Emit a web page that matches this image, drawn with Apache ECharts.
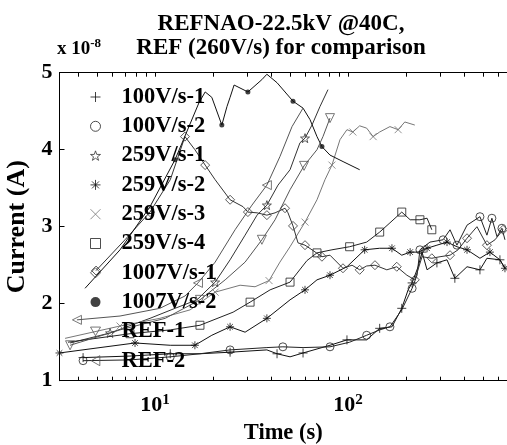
<!DOCTYPE html>
<html lang="en">
<head>
<meta charset="UTF-8">
<title>REFNAO-22.5kV @40C</title>
<script src="https://cdn.jsdelivr.net/npm/echarts@6/dist/echarts.min.js"></script>
<style>
    html, body { margin: 0; padding: 0; background: #fff; }
    #chart { width: 507px; height: 445px; }
</style>
</head>
<body>
<div id="chart"></div>
<script>
// time (s), current (x 1e-8 A)
const v100_1 = [[4.24,1.30],[7.42,1.32],[12.0,1.35],[17.1,1.35],[24.5,1.37],[38.0,1.40],[42.9,1.35],[50.1,1.31],[58.5,1.36],[80.7,1.46],[98.8,1.53],[125,1.53],[146,1.68],[169,1.70],[190,1.94],[205,2.18],[215,2.27],[231,2.48],[242,2.67],[257,2.44],[289,2.53],[326,2.57],[358,2.33],[414,2.48],[483,2.44],[525,2.59],[613,2.57],[651,2.46]];
const v100_2 = [[4.24,1.26],[7.42,1.27],[12.0,1.31],[17.1,1.35],[24.5,1.40],[38.0,1.43],[46.0,1.44],[58.5,1.43],[80.7,1.44],[102,1.50],[125,1.59],[146,1.66],[165,1.70],[190,1.92],[215,2.20],[228,2.37],[236,2.70],[266,2.80],[311,2.83],[338,2.96],[367,2.76],[414,3.02],[483,3.13],[525,2.89],[557,3.11],[592,2.87],[628,2.98],[651,2.83]];
const v259_1 = [[3.63,1.49],[5.85,1.62],[9.42,1.81],[12.7,1.94],[16.5,2.05],[20.5,2.28],[24.5,2.57],[29.3,2.89],[33.8,3.15],[38.0,3.28],[43.4,3.54],[50.1,3.74],[56.4,4.09],[59.9,4.15],[65.1,4.32],[71.6,4.56],[78.8,4.78]];
const v259_2 = [[3.2,1.36],[5.19,1.43],[7.88,1.49],[12.0,1.46],[16.1,1.46],[19.7,1.59],[24.5,1.70],[29.3,1.63],[38.0,1.81],[50.1,2.05],[59.9,2.18],[69.1,2.31],[80.7,2.37],[98.8,2.48],[122,2.70],[146,2.72],[169,2.72],[190,2.63],[210,2.67],[231,2.67],[257,2.72],[289,2.76],[326,2.80],[367,2.74],[414,2.70],[483,2.59],[544,2.67],[613,2.57],[651,2.46]];
const v259_3 = [[3.42,1.55],[6.59,1.71],[10.6,1.81],[15.2,1.92],[20.5,2.15],[27.6,2.24],[33.0,2.22],[39.0,2.30],[44.4,2.54],[50.1,2.74],[59.9,3.06],[69.1,3.35],[76.0,3.61],[82.6,3.80],[90.9,4.13],[98.8,4.26],[106,4.23],[115,4.31],[125,4.28],[135,4.17],[146,4.23],[165,4.30],[182,4.26],[197,4.36],[222,4.32]];
const v259_4 = [[3.54,1.50],[7.42,1.61],[12.0,1.66],[17.1,1.72],[25.4,1.89],[31.1,2.02],[39.5,2.18],[50.1,2.28],[61.3,2.56],[69.1,2.66],[82.6,2.70],[102,2.74],[125,2.80],[146,2.93],[165,3.05],[190,3.19],[210,3.09],[236,3.09],[257,3.11],[272,2.96]];
const v1007_1 = [[4.95,2.43],[6.99,2.83],[9.42,3.19],[12.0,3.61],[14.3,4.17],[16.1,4.00],[18.2,3.80],[20.5,3.61],[24.5,3.35],[28.6,3.26],[30.3,3.19],[33.8,3.18],[38.0,3.15],[41.9,3.18],[47.2,3.24],[48.9,3.18],[51.9,3.01],[55.1,2.79],[59.9,2.76],[65.1,2.70],[73.3,2.61],[80.7,2.63],[94.2,2.46],[105,2.50],[115,2.44],[125,2.49],[138,2.50],[159,2.44],[179,2.48],[202,2.37],[222,2.31],[242,2.61],[272,2.59],[300,2.61],[338,2.63],[372,2.70],[414,2.85],[466,3.00],[525,2.76],[578,2.83],[636,2.96]];
const v1007_2 = [[4.34,2.20],[6.59,2.70],[9.42,3.26],[12.7,3.87],[16.9,4.61],[18.2,4.75],[19.7,4.68],[22.2,4.32],[23.6,4.56],[24.5,4.68],[25.7,4.84],[30.3,4.75],[35.8,4.91],[38.0,4.98],[42.9,4.87],[51.9,4.63],[58.5,4.54],[63.6,4.39],[69.1,4.17],[73.3,4.04],[80.7,3.93],[95.3,3.84],[115,3.74]];
const vRef1 = [[3.63,1.46],[6.59,1.66],[11.3,1.81],[17.1,2.05],[23.1,2.31],[29.3,2.54],[35.8,2.83],[41.9,3.09],[50.1,3.48],[59.2,3.79],[69.1,4.00],[74.2,4.17],[80.7,4.41]];
const vRef2 = [[3.94,1.79],[6.59,1.84],[10.6,1.94],[14.3,2.10],[16.7,2.27],[20.5,2.54],[26.0,2.96],[31.8,3.28],[38.0,3.54],[44.4,3.91],[51.3,4.30],[58.5,4.54]];

const names = ['100V/s-1', '100V/s-2', '259V/s-1', '259V/s-2', '259V/s-3', '259V/s-4', '1007V/s-1', '1007V/s-2', 'REF-1', 'REF-2'];
const values = [v100_1, v100_2, v259_1, v259_2, v259_3, v259_4, v1007_1, v1007_2, vRef1, vRef2];

const xTickVals = [4, 5, 6, 7, 8, 9, 10, 20, 30, 40, 50, 60, 70, 80, 90, 100, 200, 300, 400, 500, 600];
const xLabelVals = [10, 100];

// marker shapes, matlab style
const PLUS = 'path://M5,0V10M0,5H10';
const CROSS = 'path://M1,1L9,9M9,1L1,9';
const ASTER = 'path://M5,0V10M0,5H10M1.5,1.5L8.5,8.5M8.5,1.5L1.5,8.5';
const STAR = 'path://M10,0L12.35,6.76L19.51,6.91L13.8,11.24L15.88,18.09L10,14L4.12,18.09L6.2,11.24L0.49,6.91L7.65,6.76Z';
const DOWN = 'path://M0,0H10L5,8.66Z';
const LEFT = 'path://M8.66,0V10L0,5Z';

// step / off: which points get a marker (matlab puts them on every n-th sample)
const looks = [
    { symbol: PLUS, size: 9, color: '#111', step: 2, off: 0 },
    { symbol: 'circle', size: 8, color: '#222', step: 2, off: 0 },
    { symbol: STAR, size: 9, color: '#333', step: 4, off: 1 },
    { symbol: ASTER, size: 8, color: '#111', step: 2, off: 0 },
    { symbol: CROSS, size: 7, color: '#777', step: 3, off: 1 },
    { symbol: 'rect', size: 8, color: '#222', step: 2, off: 1 },
    { symbol: 'diamond', size: 9, color: '#333', step: 2, off: 0 },
    { symbol: 'circle', size: 5, color: '#111', step: 4, off: 3 },
    { symbol: DOWN, size: 9, color: '#555', step: 3, off: 0 },
    { symbol: LEFT, size: 9, color: '#555', step: 4, off: 0 }
];
looks[7].filled = true;

const serif = 'Liberation Serif';
const chart = echarts.init(document.getElementById('chart'));

let markSeries = names.map((n, k) => ({
    name: n,
    type: 'scatter',
    symbol: looks[k].symbol,
    symbolSize: looks[k].size,
    itemStyle: looks[k].filled
        ? { color: looks[k].color }
        : { color: 'rgba(0,0,0,0)', borderColor: looks[k].color, borderWidth: 1 },
    data: values[k].filter((p, i) => i % looks[k].step === looks[k].off),
    z: 3
}));

let lineSeries = names.map((n, k) => ({
    name: n,
    type: 'line',
    symbol: 'none',
    lineStyle: { color: looks[k].color, width: 1 },
    data: values[k],
    z: 2
}));

const tickLabel = v => '{b|10}{s|' + Math.round(Math.log10(v)) + '}';

chart.setOption({
    animation: false,
    backgroundColor: '#fff',
    title: [{
        text: 'REFNAO-22.5kV @40C,\nREF (260V/s) for comparison',
        left: 281, top: 12, padding: 0,
        textAlign: 'center',
        textStyle: { fontFamily: serif, fontWeight: 'bold', fontSize: 23, lineHeight: 24, color: '#000' }
    }, {
        text: '{a|x 10}{s|-8}',
        left: 57, top: 37, padding: 0,
        textStyle: {
            rich: {
                a: { fontFamily: serif, fontWeight: 'bold', fontSize: 19, color: '#000', lineHeight: 22, verticalAlign: 'bottom' },
                s: { fontFamily: serif, fontWeight: 'bold', fontSize: 13, color: '#000', lineHeight: 22, verticalAlign: 'top' }
            }
        }
    }],
    legend: {
        data: names,
        orient: 'vertical',
        left: 90, top: 85.5, padding: 0,
        itemWidth: 10, itemHeight: 10, itemGap: 6.3,
        selectedMode: false,
        itemStyle: { borderWidth: 1 },
        textStyle: { fontFamily: serif, fontWeight: 'bold', fontSize: 22.5, lineHeight: 23, color: '#000', padding: [0, 0, 0, 16] }
    },
    grid: { left: 59.5, top: 72.7, right: 0, bottom: 64.3, outerBoundsMode: 'none' },
    xAxis: [{
        type: 'log', logBase: 10, min: 3.2, max: 667,
        position: 'bottom',
        name: 'Time (s)', nameLocation: 'middle', nameGap: 41,
        nameTextStyle: { fontFamily: serif, fontWeight: 'bold', fontSize: 22.5, color: '#000' },
        axisLine: { lineStyle: { color: '#000', width: 1 } },
        axisTick: { inside: true, length: 4, customValues: xTickVals, lineStyle: { color: '#000' } },
        axisLabel: {
            customValues: xLabelVals, margin: 12, formatter: tickLabel,
            rich: {
                b: { fontFamily: serif, fontWeight: 'bold', fontSize: 22, color: '#000', lineHeight: 24, verticalAlign: 'bottom' },
                s: { fontFamily: serif, fontWeight: 'bold', fontSize: 15, color: '#000', lineHeight: 24, verticalAlign: 'top' }
            }
        },
        splitLine: { show: false }
    }, {
        type: 'log', logBase: 10, min: 3.2, max: 667,
        position: 'top',
        axisLine: { lineStyle: { color: '#000', width: 1 } },
        axisTick: { inside: true, length: 4, customValues: xTickVals, lineStyle: { color: '#000' } },
        axisLabel: { show: false },
        splitLine: { show: false }
    }],
    yAxis: {
        type: 'value', min: 1, max: 5, interval: 1,
        name: 'Current (A)', nameLocation: 'middle', nameGap: 20,
        nameTextStyle: { fontFamily: serif, fontWeight: 'bold', fontSize: 26, color: '#000' },
        axisLine: { show: true, lineStyle: { color: '#000', width: 1 } },
        axisTick: { inside: true, length: 5, lineStyle: { color: '#000' } },
        axisLabel: { fontFamily: serif, fontWeight: 'bold', fontSize: 22, color: '#000', margin: 7 },
        splitLine: { show: false }
    },
    series: markSeries.concat(lineSeries)
});
</script>
</body>
</html>
